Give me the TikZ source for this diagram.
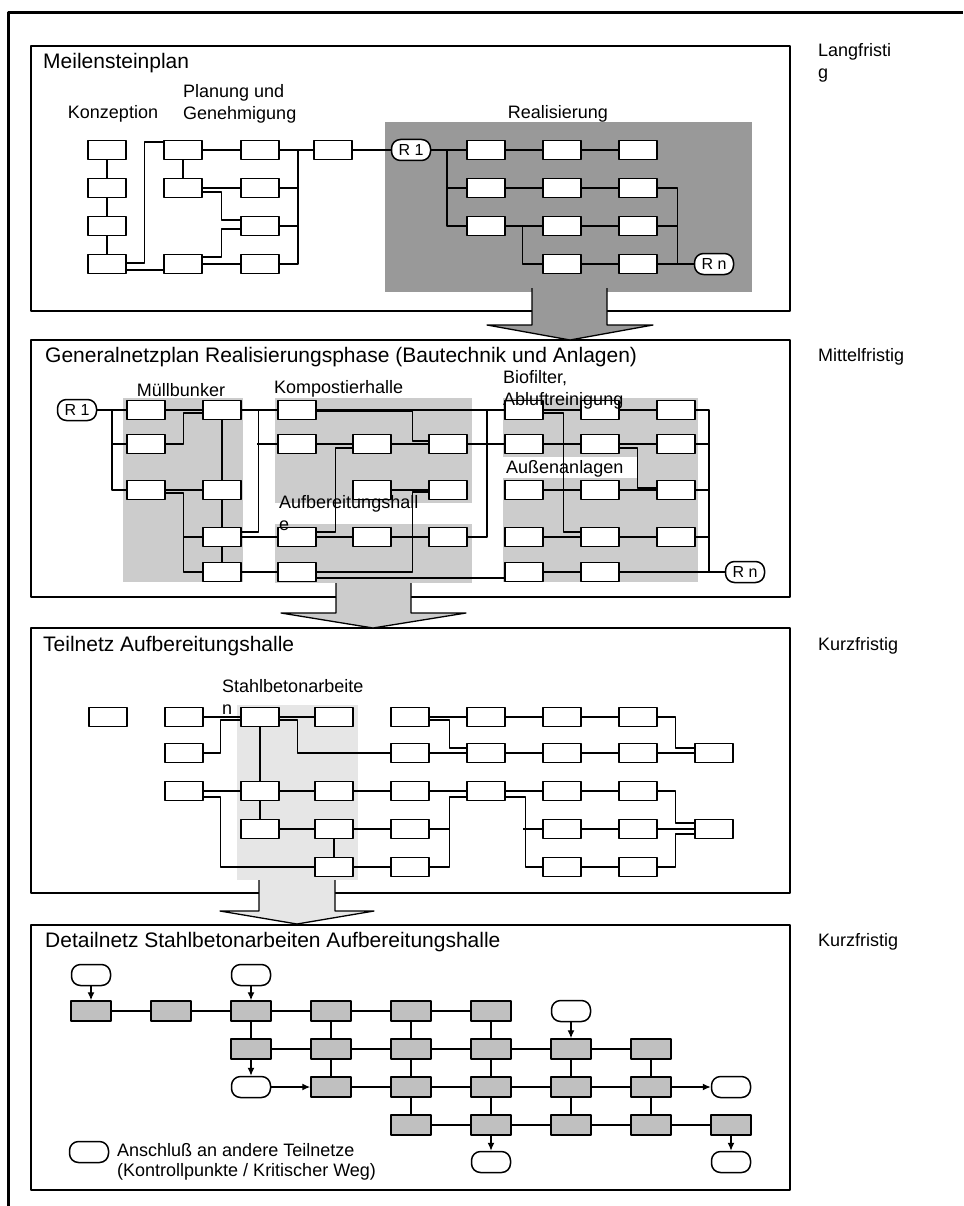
\documentclass[tikz,border=0pt]{standalone}
\usepackage{fontspec}
\setmainfont{Liberation Sans}
\usetikzlibrary{arrows.meta}

\definecolor{realgrau}{HTML}{999999}
\definecolor{zonengrau}{HTML}{CCCCCC}
\definecolor{stahlgrau}{HTML}{E6E6E6}
\definecolor{vorganggrau}{HTML}{C0C0C0}

\newcommand\titelfont{\fontsize{21}{24}\selectfont}
\newcommand\beschrfont{\fontsize{18}{22}\selectfont}
\newcommand\knotenfont{\fontsize{16}{18}\selectfont}

\tikzset{
  panel/.style={line width=1.5pt},
  vorgang/.style={draw, line width=1.5pt, fill=white, minimum width=38pt, minimum height=19pt, inner sep=0pt},
  detail/.style={vorgang, fill=vorganggrau, minimum width=40pt, minimum height=20pt},
  anschluss/.style={draw, line width=1.5pt, fill=white, rounded corners=9pt, minimum width=39pt, minimum height=21pt, inner sep=0pt, font=\knotenfont},
  kante/.style={line width=1.3pt},
  pfeil/.style={kante, -{Latex[length=8pt,width=7pt]}},
  titel/.style={anchor=west, inner sep=0pt, font=\titelfont},
  beschr/.style={inner sep=0pt, font=\beschrfont, align=left},
  blockpfeil/.style={line width=1.3pt},
}

\begin{document}
\begin{tikzpicture}[x=1pt, y=-1pt, line join=round]
  \useasboundingbox (0,0) rectangle (963,1206);
  % Rahmen
  \draw[line width=3pt] (8,1206) -- (8,13) -- (963,13);

  % Meilensteinplan
  \draw[panel] (31,46) rectangle (790,311);
  \fill[realgrau] (385,122) rectangle (752,292);
  \node[titel] (t-meilen) at (43,63) {Meilensteinplan};
  \node[beschr] (l-konz) at (113,114) {Konzeption};
  \node[beschr, anchor=west] (l-plan) at (183,104) {Planung und\\Genehmigung};
  \node[beschr] (l-real) at (558,114) {Realisierung};
  \foreach \i/\y in {1/150, 2/188, 3/226, 4/264}
    \node[vorgang] (k\i) at (107,\y) {};
  \node[vorgang] (g1) at (183,150) {};
  \node[vorgang] (g2) at (183,188) {};
  \node[vorgang] (g4) at (183,264) {};
  \foreach \i/\y in {1/150, 2/188, 3/226, 4/264}
    \node[vorgang] (h\i) at (260,\y) {};
  \node[vorgang] (m1) at (333,150) {};
  \node[anschluss] (r1) at (411,150) {R 1};
  \foreach \r/\y in {1/150, 2/188, 3/226}
    \foreach \c/\x in {1/486, 2/562, 3/638}
      \node[vorgang] (re\r\c) at (\x,\y) {};
  \node[vorgang] (re42) at (562,264) {};
  \node[vorgang] (re43) at (638,264) {};
  \node[anschluss] (rn) at (714,264) {R n};

  \draw[kante] (k1) -- (k2) -- (k3) -- (k4);
  \draw[kante] ([yshift=1pt]k4.east) -- ++(18,0) |- ([yshift=8pt]g1.west);
  \draw[kante] ([yshift=-6pt]k4.east) -- ([yshift=-6pt]g4.west);
  \draw[kante] (g1) -- (h1);
  \draw[kante] (g1) -- (g2) -- (h2);
  \draw[kante] ([yshift=-4pt]g2.east) -- ++(19,0) |- ([yshift=6pt]h3.west);
  \draw[kante] ([yshift=7pt]g4.east) -- ++(19,0) |- ([yshift=-3pt]h3.west);
  \draw[kante] (g4) -- (h4);
  \coordinate (sam1) at (298,150);
  \draw[kante] (h1) -- (m1) -- (r1);
  \draw[kante] (sam1) |- (h4.east);
  \draw[kante] (h2.east) -- (h2.east -| sam1);
  \draw[kante] (h3.east) -- (h3.east -| sam1);

  \coordinate (sam2) at (447,150);
  \draw[kante] (r1) -- (re11) -- (re12) -- (re13);
  \draw[kante] (sam2) |- (re31.west);
  \draw[kante] (re21.west -| sam2) -- (re21) -- (re22) -- (re23);
  \draw[kante] (re31) -- (re32) -- (re33);
  \draw[kante] (re31.east) -- ++(17,0) |- (re42.west);
  \draw[kante] (re42) -- (re43) -- (rn);
  \draw[kante] (re23.east) -- ++(20,0) |- (rn.west);
  \draw[kante] (re33.east) -- ++(20,0);

  % Generalnetzplan
  \draw[panel] (31,340) rectangle (790,597);
  \fill[zonengrau] (123,398) rectangle (243,582);
  \fill[zonengrau] (275,398) rectangle (472,503);
  \fill[zonengrau] (275,524) rectangle (472,583);
  \fill[zonengrau] (503,398) rectangle (698,582);
  \fill[white] (503,457) rectangle (637,478);
  \node[titel] (t-general) at (45,357) {Generalnetzplan Realisierungsphase (Bautechnik und Anlagen)};
  \node[beschr] (l-muell) at (181,390) {Müllbunker};
  \node[beschr, anchor=west] (l-kompost) at (274,389) {Kompostierhalle};
  \node[anschluss] (r1b) at (77,410) {R 1};
  \foreach \n/\x/\y in {A1/146/410, A2/146/444, A3/146/490,
                        B1/222/410, B3/222/490, B4/222/537, B5/222/572,
                        C1/297/410, C2/297/444, C4/297/537, C5/297/572,
                        D2/372/444, D3/372/490, D4/372/537,
                        E2/448/444, E3/448/490, E4/448/537,
                        F1/524/410, F2/524/444, F3/524/490, F4/524/537, F5/524/572,
                        G1/600/410, G2/600/444, G3/600/490, G4/600/537, G5/600/572,
                        H1/676/410, H2/676/444, H3/676/490, H4/676/537}
    \node[vorgang] (n\n) at (\x,\y) {};
  \node[anschluss] (rnb) at (745,572) {R n};
  \node[beschr, anchor=west] (l-bio) at (503,390) {Biofilter,\\Abluftreinigung};
  \node[beschr, anchor=west] (l-aussen) at (506,469) {Außenanlagen};
  \node[beschr, anchor=west] (l-aufb) at (279,513) {Aufbereitungshall\\e};

  \coordinate (nb0) at (112,410);
  \draw[kante] (r1b) -- (nA1) -- (nB1);
  \draw[kante] (nb0) |- (nA3.west);
  \draw[kante] (nA2.west -| nb0) -- (nA2);
  \draw[kante] (nA2.east) -- ++(18,0) |- ([yshift=-3pt]nB1.west);
  \draw[kante] (nB1) -- (nB3) -- (nB4) -- (nB5);
  \draw[kante] (nA3) -- (nB3);
  \draw[kante] ([yshift=-3pt]nA3.east) -- ++(18,0) |- (nB5.west);
  \draw[kante] (nB4.west) -- ++(-19,0);
  \draw[kante] ([yshift=5pt]nB4.east) -- ++(17,0) |- (nB1.east);
  \draw[kante] (nC2.west) -- ++(-20,0);
  \draw[kante] (nB1) -- (nC1) -- (nF1);
  \draw[kante] (nB4) -- (nC4) -- (nD4) -- (nE4);
  \draw[kante] (nB5) -- (nC5);
  \draw[kante] ([yshift=-1pt]nC1.east) -- ++(96,0) |- ([yshift=3pt]nE2.west);
  \draw[kante] (nC2) -- (nD2) -- (nE2) -- (nF2) -- (nG2) -- (nH2);
  \draw[kante] ([yshift=5pt]nC4.east) -- ++(19,0) |- ([yshift=-4pt]nD2.west);
  \draw[kante] (nD3) -- (nE3);
  \draw[kante] (nC5.east) -- ++(96,0) |- ([yshift=-2pt]nE3.west);
  \draw[kante] ([yshift=-6pt]nC5.east) -- ([yshift=-6pt]nF5.west);
  \coordinate (nb1) at (487,410);
  \draw[kante] (nE4.east) -| (nb1);
  \draw[kante] (nF1) -- (nG1) -- (nH1);
  \draw[kante] ([yshift=-3pt]nF1.east) -- ++(20,0) |- (nG3.west);
  \draw[kante] (nF3.east) -- ++(20,0) |- ([yshift=5pt]nG4.west);
  \draw[kante] ([yshift=-4pt]nG2.east) -- ++(18,0) |- ([yshift=2pt]nH3.west);
  \draw[kante] (nG3) -- (nH3);
  \draw[kante] (nF4) -- (nG4) -- (nH4);
  \draw[kante] (nF5) -- (nG5) -- (rnb);
  \coordinate (nb2) at (709,410);
  \draw[kante] (nH1.east) -| (rnb.west -| nb2);
  \foreach \n in {H2, H3, H4}
    \draw[kante] (n\n.east) -- (n\n.east -| nb2);

  % Teilnetz
  \draw[panel] (31,628) rectangle (790,893);
  \fill[stahlgrau] (237,705) rectangle (358,880);
  \node[titel] (t-teil) at (43,646) {Teilnetz Aufbereitungshalle};
  \node[beschr, anchor=west] (l-stahl) at (222,697) {Stahlbetonarbeite\\n};
  \foreach \n/\x/\y in {P1/108/717, Q1/184/717, R1/260/717, S1/334/717, T1/410/717, U1/486/717, V1/562/717, W1/638/717,
                        Q2/184/753, T2/410/753, U2/486/753, V2/562/753, W2/638/753, X2/714/753,
                        Q3/184/791, R3/260/791, S3/334/791, T3/410/791, U3/486/791, V3/562/791, W3/638/791,
                        R4/260/829, S4/334/829, T4/410/829, V4/562/829, W4/638/829, X4/714/829,
                        S5/334/867, T5/410/867, V5/562/867, W5/638/867}
    \node[vorgang] (t\n) at (\x,\y) {};

  \draw[kante] (tQ1) -- (tR1) -- (tS1);
  \draw[kante] (tQ2.east) -- ++(17,0) |- ([yshift=-3pt]tR1.west);
  \draw[kante] (tR1) -- (tR3) -- (tR4);
  \draw[kante] ([yshift=-3pt]tR1.east) -- ++(18,0) |- (tT2.west);
  \draw[kante] (tQ3) -- (tR3) -- (tS3) -- (tT3) -- (tU3) -- (tV3) -- (tW3);
  \draw[kante] ([yshift=-6pt]tQ3.east) -- ++(17,0) |- (tS5.west);
  \draw[kante] (tR4) -- (tS4) -- (tT4);
  \draw[kante] (tS4) -- (tS5) -- (tT5);
  \draw[kante] (tT1) -- (tU1) -- (tV1) -- (tW1);
  \draw[kante] ([yshift=-3pt]tT1.east) -- ++(20,0) |- ([yshift=5pt]tU2.west);
  \draw[kante] (tT2) -- (tU2) -- (tV2) -- (tW2) -- (tX2);
  \draw[kante] (tW1.east) -- ++(18,0) |- ([yshift=5pt]tX2.west);
  \draw[kante] (tT4.east) -- ++(20,0) |- ([yshift=-6pt]tU3.west);
  \draw[kante] (tT5.east) -- ++(20,0) -- ++(0,-38);
  \draw[kante] ([yshift=-6pt]tU3.east) -- ++(20,0) |- (tV5.west);
  \draw[kante] (tV4.west) -- ++(-19,0);
  \draw[kante] (tV4) -- (tW4) -- (tX4);
  \draw[kante] (tV5) -- (tW5);
  \draw[kante] (tW3.east) -- ++(18,0) |- ([yshift=6pt]tX4.west);
  \draw[kante] (tW5.east) -- ++(18,0) |- ([yshift=-5pt]tX4.west);

  % Detailnetz
  \draw[panel] (31,925) rectangle (790,1190);
  \node[titel] (t-detail) at (45,942) {Detailnetz Stahlbetonarbeiten Aufbereitungshalle};
  \foreach \r/\y/\von/\bis in {1/1011/1/6, 2/1049/3/8, 3/1087/4/8, 4/1125/5/9}
    \foreach \c in {\von,...,\bis}
      \node[detail] (d\r\c) at ({11+80*\c},\y) {};
  \node[anschluss] (a1) at (91,975) {};
  \node[anschluss] (a2) at (251,975) {};
  \node[anschluss] (a3) at (571,1011) {};
  \node[anschluss] (a4) at (251,1087) {};
  \node[anschluss] (a5) at (731,1087) {};
  \node[anschluss] (a6) at (491,1162) {};
  \node[anschluss] (a7) at (731,1162) {};
  \node[anschluss] (a0) at (89,1152) {};
  \node[beschr, anchor=west, font=\fontsize{18}{20}\selectfont] (l-legende) at (117,1162)
    {Anschluß an andere Teilnetze\\(Kontrollpunkte / Kritischer Weg)};

  \draw[kante] (d11) -- (d12) -- (d13) -- (d14) -- (d15) -- (d16);
  \draw[kante] (d23) -- (d24) -- (d25) -- (d26) -- (d27) -- (d28);
  \draw[kante] (d34) -- (d35) -- (d36) -- (d37) -- (d38);
  \draw[kante] (d45) -- (d46) -- (d47) -- (d48) -- (d49);
  \draw[kante] (d13) -- (d23);
  \draw[kante] (d14) -- (d24) -- (d34);
  \foreach \c in {5,6}
    \draw[kante] (d1\c) -- (d2\c) -- (d3\c) -- (d4\c);
  \foreach \c in {7,8}
    \draw[kante] (d2\c) -- (d3\c) -- (d4\c);
  \draw[pfeil] (a1) -- (d11);
  \draw[pfeil] (a2) -- (d13);
  \draw[pfeil] (d23) -- (a4);
  \draw[pfeil] (a4) -- (d34);
  \draw[pfeil] (a3) -- (d27);
  \draw[pfeil] (d38) -- (a5);
  \draw[pfeil] (d46) -- (a6);
  \draw[pfeil] (d49) -- (a7);

  % Fristen
  \node[beschr, anchor=west] (f-lang) at (818,63) {Langfristi\\g};
  \node[beschr, anchor=west] (f-mittel) at (818,357) {Mittelfristig};
  \node[beschr, anchor=west] (f-kurz1) at (818,646) {Kurzfristig};
  \node[beschr, anchor=west] (f-kurz2) at (818,942) {Kurzfristig};

  % Blockpfeile
  \filldraw[blockpfeil, fill=realgrau] (532,288) -- (532,325) -- (487,325) -- (570,340) -- (653,325) -- (607,325) -- (607,288);
  \filldraw[blockpfeil, fill=zonengrau] (336,583) -- (336,613) -- (281,613) -- (373,628) -- (466,613) -- (411,613) -- (411,583);
  \filldraw[blockpfeil, fill=stahlgrau] (259,880) -- (259,911) -- (220,911) -- (297,924) -- (374,911) -- (335,911) -- (335,880);
\end{tikzpicture}
\end{document}
